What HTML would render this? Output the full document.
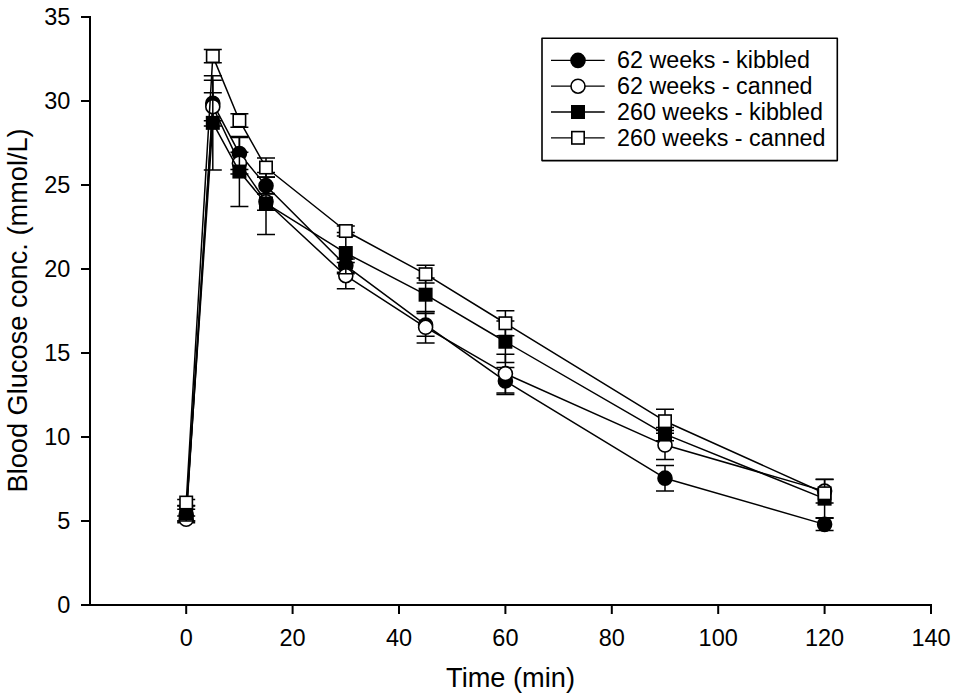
<!DOCTYPE html>
<html><head><meta charset="utf-8"><style>
html,body{margin:0;padding:0;background:#fff;}
svg{display:block;}
text{font-family:"Liberation Sans",sans-serif;font-size:23.5px;fill:#000;}
</style></head><body>
<svg width="957" height="700" viewBox="0 0 957 700">
<rect width="957" height="700" fill="#fff"/>
<path d="M90 605.0V17M90 605.0H931.00" stroke="#000" stroke-width="2" fill="none" stroke-linecap="square"/>
<path d="M81 605.00H90" stroke="#000" stroke-width="2"/>
<text x="70.3" y="613.30" text-anchor="end">0</text>
<path d="M81 521.00H90" stroke="#000" stroke-width="2"/>
<text x="70.3" y="529.30" text-anchor="end">5</text>
<path d="M81 437.00H90" stroke="#000" stroke-width="2"/>
<text x="70.3" y="445.30" text-anchor="end">10</text>
<path d="M81 353.00H90" stroke="#000" stroke-width="2"/>
<text x="70.3" y="361.30" text-anchor="end">15</text>
<path d="M81 269.00H90" stroke="#000" stroke-width="2"/>
<text x="70.3" y="277.30" text-anchor="end">20</text>
<path d="M81 185.00H90" stroke="#000" stroke-width="2"/>
<text x="70.3" y="193.30" text-anchor="end">25</text>
<path d="M81 101.00H90" stroke="#000" stroke-width="2"/>
<text x="70.3" y="109.30" text-anchor="end">30</text>
<path d="M81 17.00H90" stroke="#000" stroke-width="2"/>
<text x="70.3" y="25.30" text-anchor="end">35</text>
<path d="M186.20 605.0V614" stroke="#000" stroke-width="2"/>
<text x="186.20" y="646" text-anchor="middle">0</text>
<path d="M292.60 605.0V614" stroke="#000" stroke-width="2"/>
<text x="292.60" y="646" text-anchor="middle">20</text>
<path d="M399.00 605.0V614" stroke="#000" stroke-width="2"/>
<text x="399.00" y="646" text-anchor="middle">40</text>
<path d="M505.40 605.0V614" stroke="#000" stroke-width="2"/>
<text x="505.40" y="646" text-anchor="middle">60</text>
<path d="M611.80 605.0V614" stroke="#000" stroke-width="2"/>
<text x="611.80" y="646" text-anchor="middle">80</text>
<path d="M718.20 605.0V614" stroke="#000" stroke-width="2"/>
<text x="718.20" y="646" text-anchor="middle">100</text>
<path d="M824.60 605.0V614" stroke="#000" stroke-width="2"/>
<text x="824.60" y="646" text-anchor="middle">120</text>
<path d="M931.00 605.0V614" stroke="#000" stroke-width="2"/>
<text x="931.00" y="646" text-anchor="middle">140</text>
<text x="510.5" y="687" text-anchor="middle" style="font-size:27.2px">Time (min)</text>
<text transform="translate(27,310.4) rotate(-90)" text-anchor="middle" style="font-size:27.2px">Blood Glucose conc. (mmol/L)</text>
<polyline points="186.20,515.12 212.80,103.18 239.40,153.58 266.00,185.67 345.80,265.64 425.60,324.94 505.40,381.06 665.00,478.16 824.60,524.36" fill="none" stroke="#000" stroke-width="1.5" stroke-linejoin="round"/>
<path d="M186.20 509.24V521.00M177.20 509.24H195.20M177.20 521.00H195.20" stroke="#000" stroke-width="1.5" fill="none"/>
<path d="M212.80 80.34V126.03M203.80 80.34H221.80M203.80 126.03H221.80" stroke="#000" stroke-width="1.5" fill="none"/>
<path d="M239.40 137.62V169.54M230.40 137.62H248.40M230.40 169.54H248.40" stroke="#000" stroke-width="1.5" fill="none"/>
<path d="M266.00 177.27V194.07M257.00 177.27H275.00M257.00 194.07H275.00" stroke="#000" stroke-width="1.5" fill="none"/>
<path d="M345.80 258.92V272.36M336.80 258.92H354.80M336.80 272.36H354.80" stroke="#000" stroke-width="1.5" fill="none"/>
<path d="M425.60 313.52V336.37M416.60 313.52H434.60M416.60 336.37H434.60" stroke="#000" stroke-width="1.5" fill="none"/>
<path d="M505.40 367.62V394.50M496.40 367.62H514.40M496.40 394.50H514.40" stroke="#000" stroke-width="1.5" fill="none"/>
<path d="M665.00 465.39V490.93M656.00 465.39H674.00M656.00 490.93H674.00" stroke="#000" stroke-width="1.5" fill="none"/>
<path d="M824.60 518.31V530.41M815.60 518.31H833.60M815.60 530.41H833.60" stroke="#000" stroke-width="1.5" fill="none"/>
<circle cx="186.20" cy="515.12" r="7.0" fill="#000" stroke="#000" stroke-width="1.6"/>
<circle cx="212.80" cy="103.18" r="7.0" fill="#000" stroke="#000" stroke-width="1.6"/>
<circle cx="239.40" cy="153.58" r="7.0" fill="#000" stroke="#000" stroke-width="1.6"/>
<circle cx="266.00" cy="185.67" r="7.0" fill="#000" stroke="#000" stroke-width="1.6"/>
<circle cx="345.80" cy="265.64" r="7.0" fill="#000" stroke="#000" stroke-width="1.6"/>
<circle cx="425.60" cy="324.94" r="7.0" fill="#000" stroke="#000" stroke-width="1.6"/>
<circle cx="505.40" cy="381.06" r="7.0" fill="#000" stroke="#000" stroke-width="1.6"/>
<circle cx="665.00" cy="478.16" r="7.0" fill="#000" stroke="#000" stroke-width="1.6"/>
<circle cx="824.60" cy="524.36" r="7.0" fill="#000" stroke="#000" stroke-width="1.6"/>
<polyline points="186.20,519.32 212.80,106.71 239.40,163.16 266.00,201.80 345.80,275.72 425.60,327.30 505.40,373.66 665.00,445.06 824.60,491.10" fill="none" stroke="#000" stroke-width="1.5" stroke-linejoin="round"/>
<path d="M186.20 515.96V522.68M177.20 515.96H195.20M177.20 522.68H195.20" stroke="#000" stroke-width="1.5" fill="none"/>
<path d="M212.80 92.77V120.66M203.80 92.77H221.80M203.80 120.66H221.80" stroke="#000" stroke-width="1.5" fill="none"/>
<path d="M239.40 152.24V174.08M230.40 152.24H248.40M230.40 174.08H248.40" stroke="#000" stroke-width="1.5" fill="none"/>
<path d="M266.00 193.40V210.20M257.00 193.40H275.00M257.00 210.20H275.00" stroke="#000" stroke-width="1.5" fill="none"/>
<path d="M345.80 262.62V288.82M336.80 262.62H354.80M336.80 288.82H354.80" stroke="#000" stroke-width="1.5" fill="none"/>
<path d="M425.60 311.67V342.92M416.60 311.67H434.60M416.60 342.92H434.60" stroke="#000" stroke-width="1.5" fill="none"/>
<path d="M505.40 354.34V392.98M496.40 354.34H514.40M496.40 392.98H514.40" stroke="#000" stroke-width="1.5" fill="none"/>
<path d="M665.00 430.62V459.51M656.00 430.62H674.00M656.00 459.51H674.00" stroke="#000" stroke-width="1.5" fill="none"/>
<path d="M824.60 479.17V503.02M815.60 479.17H833.60M815.60 503.02H833.60" stroke="#000" stroke-width="1.5" fill="none"/>
<circle cx="186.20" cy="519.32" r="7.0" fill="#fff" stroke="#000" stroke-width="1.6"/>
<circle cx="212.80" cy="106.71" r="7.0" fill="#fff" stroke="#000" stroke-width="1.6"/>
<circle cx="239.40" cy="163.16" r="7.0" fill="#fff" stroke="#000" stroke-width="1.6"/>
<circle cx="266.00" cy="201.80" r="7.0" fill="#fff" stroke="#000" stroke-width="1.6"/>
<circle cx="345.80" cy="275.72" r="7.0" fill="#fff" stroke="#000" stroke-width="1.6"/>
<circle cx="425.60" cy="327.30" r="7.0" fill="#fff" stroke="#000" stroke-width="1.6"/>
<circle cx="505.40" cy="373.66" r="7.0" fill="#fff" stroke="#000" stroke-width="1.6"/>
<circle cx="665.00" cy="445.06" r="7.0" fill="#fff" stroke="#000" stroke-width="1.6"/>
<circle cx="824.60" cy="491.10" r="7.0" fill="#fff" stroke="#000" stroke-width="1.6"/>
<polyline points="186.20,513.44 212.80,122.84 239.40,171.56 266.00,203.48 345.80,253.04 425.60,294.70 505.40,341.74 665.00,434.14 824.60,498.66" fill="none" stroke="#000" stroke-width="1.5" stroke-linejoin="round"/>
<path d="M186.20 505.88V521.00M177.20 505.88H195.20M177.20 521.00H195.20" stroke="#000" stroke-width="1.5" fill="none"/>
<path d="M212.80 75.80V169.88M203.80 75.80H221.80M203.80 169.88H221.80" stroke="#000" stroke-width="1.5" fill="none"/>
<path d="M239.40 136.62V206.50M230.40 136.62H248.40M230.40 206.50H248.40" stroke="#000" stroke-width="1.5" fill="none"/>
<path d="M266.00 172.40V234.56M257.00 172.40H275.00M257.00 234.56H275.00" stroke="#000" stroke-width="1.5" fill="none"/>
<path d="M345.80 232.38V273.70M336.80 232.38H354.80M336.80 273.70H354.80" stroke="#000" stroke-width="1.5" fill="none"/>
<path d="M425.60 277.90V311.50M416.60 277.90H434.60M416.60 311.50H434.60" stroke="#000" stroke-width="1.5" fill="none"/>
<path d="M505.40 321.08V362.41M496.40 321.08H514.40M496.40 362.41H514.40" stroke="#000" stroke-width="1.5" fill="none"/>
<path d="M665.00 427.42V440.86M656.00 427.42H674.00M656.00 440.86H674.00" stroke="#000" stroke-width="1.5" fill="none"/>
<path d="M824.60 479.50V517.81M815.60 479.50H833.60M815.60 517.81H833.60" stroke="#000" stroke-width="1.5" fill="none"/>
<rect x="180.00" y="507.24" width="12.4" height="12.4" fill="#000" stroke="#000" stroke-width="1.6"/>
<rect x="206.60" y="116.64" width="12.4" height="12.4" fill="#000" stroke="#000" stroke-width="1.6"/>
<rect x="233.20" y="165.36" width="12.4" height="12.4" fill="#000" stroke="#000" stroke-width="1.6"/>
<rect x="259.80" y="197.28" width="12.4" height="12.4" fill="#000" stroke="#000" stroke-width="1.6"/>
<rect x="339.60" y="246.84" width="12.4" height="12.4" fill="#000" stroke="#000" stroke-width="1.6"/>
<rect x="419.40" y="288.50" width="12.4" height="12.4" fill="#000" stroke="#000" stroke-width="1.6"/>
<rect x="499.20" y="335.54" width="12.4" height="12.4" fill="#000" stroke="#000" stroke-width="1.6"/>
<rect x="658.80" y="427.94" width="12.4" height="12.4" fill="#000" stroke="#000" stroke-width="1.6"/>
<rect x="818.40" y="492.46" width="12.4" height="12.4" fill="#000" stroke="#000" stroke-width="1.6"/>
<polyline points="186.20,502.52 212.80,56.14 239.40,120.49 266.00,167.53 345.80,231.03 425.60,274.21 505.40,323.26 665.00,421.21 824.60,493.28" fill="none" stroke="#000" stroke-width="1.5" stroke-linejoin="round"/>
<path d="M186.20 499.50V505.54M177.20 499.50H195.20M177.20 505.54H195.20" stroke="#000" stroke-width="1.5" fill="none"/>
<path d="M212.80 49.59V62.70M203.80 49.59H221.80M203.80 62.70H221.80" stroke="#000" stroke-width="1.5" fill="none"/>
<path d="M239.40 113.77V127.21M230.40 113.77H248.40M230.40 127.21H248.40" stroke="#000" stroke-width="1.5" fill="none"/>
<path d="M266.00 158.12V176.94M257.00 158.12H275.00M257.00 176.94H275.00" stroke="#000" stroke-width="1.5" fill="none"/>
<path d="M345.80 225.99V236.07M336.80 225.99H354.80M336.80 236.07H354.80" stroke="#000" stroke-width="1.5" fill="none"/>
<path d="M425.60 265.30V283.11M416.60 265.30H434.60M416.60 283.11H434.60" stroke="#000" stroke-width="1.5" fill="none"/>
<path d="M505.40 310.66V335.86M496.40 310.66H514.40M496.40 335.86H514.40" stroke="#000" stroke-width="1.5" fill="none"/>
<path d="M665.00 409.28V433.14M656.00 409.28H674.00M656.00 433.14H674.00" stroke="#000" stroke-width="1.5" fill="none"/>
<rect x="180.00" y="496.32" width="12.4" height="12.4" fill="#fff" stroke="#000" stroke-width="1.6"/>
<rect x="206.60" y="49.94" width="12.4" height="12.4" fill="#fff" stroke="#000" stroke-width="1.6"/>
<rect x="233.20" y="114.29" width="12.4" height="12.4" fill="#fff" stroke="#000" stroke-width="1.6"/>
<rect x="259.80" y="161.33" width="12.4" height="12.4" fill="#fff" stroke="#000" stroke-width="1.6"/>
<rect x="339.60" y="224.83" width="12.4" height="12.4" fill="#fff" stroke="#000" stroke-width="1.6"/>
<rect x="419.40" y="268.01" width="12.4" height="12.4" fill="#fff" stroke="#000" stroke-width="1.6"/>
<rect x="499.20" y="317.06" width="12.4" height="12.4" fill="#fff" stroke="#000" stroke-width="1.6"/>
<rect x="658.80" y="415.01" width="12.4" height="12.4" fill="#fff" stroke="#000" stroke-width="1.6"/>
<rect x="818.40" y="487.08" width="12.4" height="12.4" fill="#fff" stroke="#000" stroke-width="1.6"/>
<rect x="542" y="38.2" width="295.3" height="122.4" fill="#fff" stroke="#000" stroke-width="1.6" stroke-linejoin="round"/>
<path d="M551 60.40H604.7" stroke="#000" stroke-width="1.3"/>
<circle cx="578.00" cy="60.40" r="7.0" fill="#000" stroke="#000" stroke-width="1.6"/>
<text x="617" y="68.20" style="font-size:23.3px">62 weeks - kibbled</text>
<path d="M551 86.20H604.7" stroke="#000" stroke-width="1.3"/>
<circle cx="578.00" cy="86.20" r="7.0" fill="#fff" stroke="#000" stroke-width="1.6"/>
<text x="617" y="94.00" style="font-size:23.3px">62 weeks - canned</text>
<path d="M551 112.00H604.7" stroke="#000" stroke-width="1.3"/>
<rect x="571.80" y="105.80" width="12.4" height="12.4" fill="#000" stroke="#000" stroke-width="1.6"/>
<text x="617" y="119.80" style="font-size:23.3px">260 weeks - kibbled</text>
<path d="M551 137.80H604.7" stroke="#000" stroke-width="1.3"/>
<rect x="571.80" y="131.60" width="12.4" height="12.4" fill="#fff" stroke="#000" stroke-width="1.6"/>
<text x="617" y="145.60" style="font-size:23.3px">260 weeks - canned</text>
</svg>
</body></html>
